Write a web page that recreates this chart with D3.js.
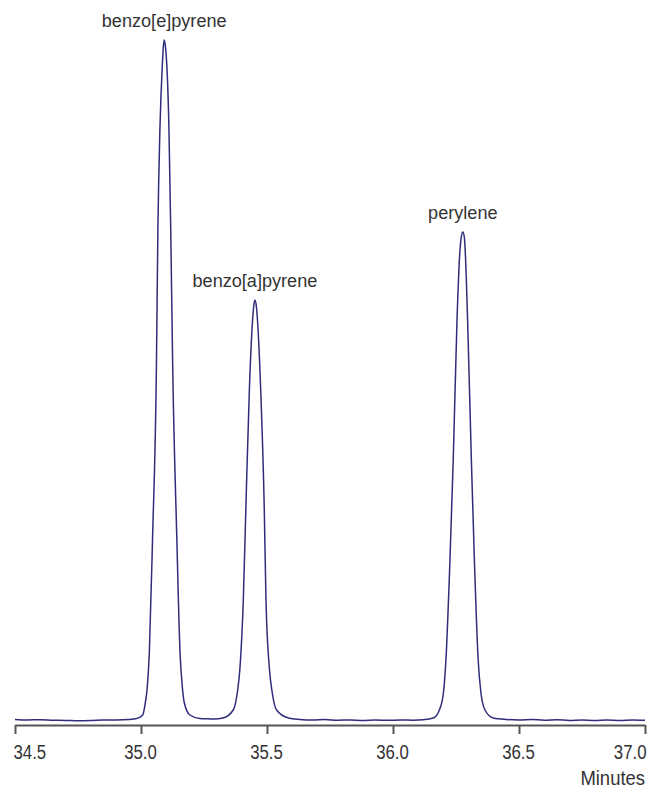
<!DOCTYPE html>
<html>
<head>
<meta charset="utf-8">
<script src="https://cdn.jsdelivr.net/npm/d3@7"></script>
<style>
  html, body { margin: 0; padding: 0; background: #fff; }
  svg { display: block; }
  .lbl { font-family: "Liberation Sans", Arial, sans-serif; fill: #333; }
</style>
</head>
<body>
<svg id="chart" width="662" height="790"></svg>
<script>
// Tick values (minutes)
const tickValues = [34.5, 35.0, 35.5, 36.0, 36.5, 37.0];

// Chromatogram trace: retention time (min), detector response (arb.)
const times = [
  34.50, 34.55, 34.60, 34.65, 34.70, 34.75, 34.80, 34.85, 34.90, 34.95,
  34.983, 35.007, 35.017, 35.025, 35.033, 35.046, 35.061, 35.067, 35.075, 35.085, 35.088, 35.092,
  35.098, 35.102, 35.111, 35.118, 35.126, 35.142, 35.155, 35.164, 35.172, 35.194, 35.234,
  35.26, 35.29, 35.325, 35.366, 35.382, 35.393, 35.406, 35.417, 35.430, 35.442, 35.447, 35.452,
  35.458, 35.463, 35.475, 35.489, 35.496, 35.509, 35.521, 35.538, 35.585,
  35.63, 35.68, 35.73, 35.78, 35.83, 35.88, 35.93, 35.98, 36.03, 36.08, 36.12,
  36.160, 36.184, 36.200, 36.210, 36.226, 36.239, 36.254, 36.265, 36.271, 36.277,
  36.283, 36.287, 36.296, 36.311, 36.323, 36.338, 36.349, 36.365, 36.398,
  36.45, 36.50, 36.55, 36.60, 36.65, 36.70, 36.75, 36.80, 36.85, 36.90, 36.95, 37.00
];
const response = [
  1.5, 1.0, 1.3, 0.8, 0.6, 0.2, 0.4, 0.9, 1.0, 1.5,
  2.5, 6, 18, 34, 68, 184, 351, 491, 591, 658, 672, 681,
  672, 658, 591, 491, 351, 184, 68, 34, 18, 6, 2.5,
  2.2, 2.0, 3, 11, 28, 54, 121, 221, 331, 398, 414, 421,
  414, 398, 331, 214, 121, 54, 28, 11, 3,
  1.6, 1.0, 1.4, 0.8, 1.1, 0.6, 1.0, 0.7, 1.0, 0.8, 1.2,
  3, 11, 28, 61, 161, 261, 401, 468, 484, 489,
  484, 468, 401, 261, 161, 61, 28, 11, 3,
  1.5, 1.0, 1.6, 0.8, 1.2, 0.6, 1.0, 0.4, 0.9, 0.5, 1.1, 0.8
];

// Peak labels
const peakNames = ["benzo[e]pyrene", "benzo[a]pyrene", "perylene"];
const peakTimes = [35.092, 35.452, 36.277];
const peakHeights = [681, 421, 489];

const svg = d3.select("#chart");

const x = d3.scaleLinear().domain([34.5, 37.0]).range([15, 645]);
const y = d3.scaleLinear().domain([0, 700]).range([721, 21]);

const pts = times.map((t, i) => [t, response[i]]);

const line = d3.line()
  .x(d => x(d[0]))
  .y(d => y(d[1]))
  .curve(d3.curveMonotoneX);

svg.append("path")
  .datum(pts)
  .attr("fill", "none")
  .attr("stroke", "#2f2c7c")
  .attr("stroke-width", 1.5)
  .attr("stroke-linejoin", "round")
  .attr("d", line);

// Axis
const axis = d3.axisBottom(x)
  .tickValues(tickValues)
  .tickFormat(d3.format(".1f"))
  .tickSize(9)
  .tickSizeOuter(0)
  .tickPadding(7);

const gx = svg.append("g")
  .attr("transform", "translate(0,725)")
  .call(axis);

gx.select(".domain").attr("stroke", "#555").attr("stroke-width", 2);
gx.selectAll(".tick line").attr("stroke", "#555").attr("stroke-width", 2);
const nT = tickValues.length;
gx.selectAll(".tick text")
  .attr("class", "lbl")
  .attr("fill", "#333")
  .attr("font-size", 20.5)
  .attr("dy", null)
  .attr("y", 0)
  .attr("text-anchor", (d, i) => i === 0 ? "start" : (i === nT - 1 ? "end" : "middle"))
  .attr("transform", (d, i) => {
    const dx = i === 0 ? -2 : (i === nT - 1 ? 1 : -1);
    return `translate(${dx},34) scale(0.82,1)`;
  });

svg.append("text")
  .attr("class", "lbl")
  .attr("transform", "translate(645,785) scale(0.9,1)")
  .attr("text-anchor", "end")
  .attr("font-size", 20.5)
  .text("Minutes");

// Peak labels
svg.selectAll(".peak")
  .data(peakNames)
  .enter()
  .append("text")
  .attr("class", "lbl peak")
  .attr("transform", (d, i) => `translate(${x(peakTimes[i])},${y(peakHeights[i]) - 13}) scale(0.98,1)`)
  .attr("text-anchor", "middle")
  .attr("font-size", 18.5)
  .text(d => d);
</script>
</body>
</html>
